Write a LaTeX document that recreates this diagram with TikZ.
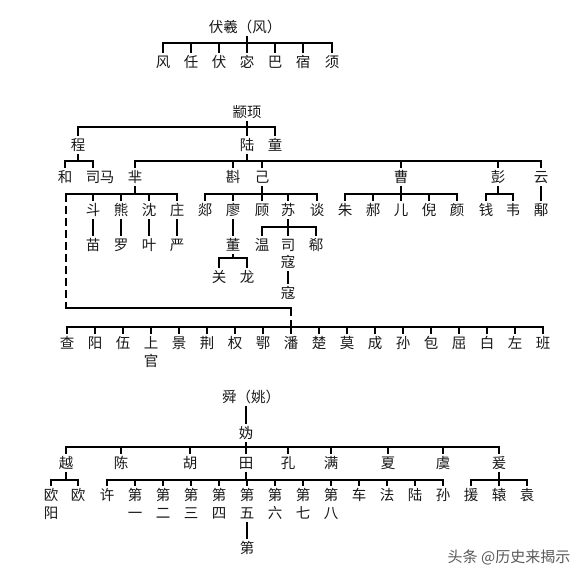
\documentclass[tikz,border=0pt]{standalone}
\usepackage{fontspec}
\newfontfamily\cjk{Noto Sans CJK SC}
\begin{document}
\begin{tikzpicture}[x=1pt,y=-1pt,
  nm/.style={font=\cjk\fontsize{14.5}{16}\selectfont, inner sep=0pt, outer sep=4pt, text height=11.8pt, text depth=1pt, text=black!90},
  ln/.style={line width=2.6pt, line cap=rect},
  dl/.style={line width=2.6pt, dash pattern=on 8pt off 4pt}]
\useasboundingbox (0,0) rectangle (583,575);
\fill[white] (0,0) rectangle (583,575);
% ---------- section 1
\node[nm] (t1) at (245,27) {伏羲（风）};
\node[nm] (f1) at (163,62) {风};
\node[nm] (f2) at (191,62) {任};
\node[nm] (f3) at (219,62) {伏};
\node[nm] (f4) at (247,62) {宓};
\node[nm] (f5) at (275,62) {巴};
\node[nm] (f6) at (303,62) {宿};
\node[nm] (f7) at (332,62) {须};
\coordinate (b1) at (0,43);
\draw[ln] (t1.south -| f4) -- (f4 |- b1);
\draw[ln] (f1 |- b1) -- (f7 |- b1);
\foreach \n in {f1,f2,f3,f4,f5,f6,f7} \draw[ln] (\n |- b1) -- (\n.north);
% ---------- section 2
\node[nm] (zx) at (247,112) {颛顼};
\node[nm] (cheng) at (78,145) {程};
\node[nm] (lu) at (247,145) {陆};
\node[nm] (tong) at (275,145) {童};
\coordinate (b2) at (0,127);
\draw[ln] (zx.south) -- (zx |- b2);
\draw[ln] (cheng |- b2) -- (tong |- b2);
\foreach \n in {cheng,lu,tong} \draw[ln] (\n |- b2) -- (\n.north);
% row 177
\node[nm] (he) at (65,177) {和};
\node[nm] (si) at (93,177) {司};
\node[nm] (ma) at (107,177) {马};
\node[nm] (mi) at (135,177) {芈};
\node[nm] (zhen) at (233,177) {斟};
\node[nm] (ji) at (262,177) {己};
\node[nm] (cao) at (401,177) {曹};
\node[nm] (peng) at (498,177) {彭};
\node[nm] (yun) at (541,177) {云};
\coordinate (b3) at (0,161);
\draw[ln] (cheng.south) -- (cheng |- b3);
\draw[ln] (he |- b3) -- (si |- b3);
\foreach \n in {he,si} \draw[ln] (\n |- b3) -- (\n.north);
\draw[ln] (lu.south) -- (lu |- b3);
\draw[ln] (mi |- b3) -- (yun |- b3);
\foreach \n in {mi,zhen,ji,cao,peng,yun} \draw[ln] (\n |- b3) -- (\n.north);
% row 210
\node[nm] (dou) at (93,210) {斗};
\node[nm] (xiong) at (121,210) {熊};
\node[nm] (shen) at (149,210) {沈};
\node[nm] (zhuang) at (177,210) {庄};
\node[nm] (tanA) at (205,210) {郯};
\node[nm] (liao) at (233,210) {廖};
\node[nm] (gu) at (262,210) {顾};
\node[nm] (su) at (288,210) {苏};
\node[nm] (tanB) at (317,210) {谈};
\node[nm] (zhu) at (345,210) {朱};
\node[nm] (hao) at (373,210) {郝};
\node[nm] (er) at (401,210) {儿};
\node[nm] (ni) at (429,210) {倪};
\node[nm] (yan) at (457,210) {颜};
\node[nm] (qian) at (486,210) {钱};
\node[nm] (wei) at (513,210) {韦};
\node[nm] (yuB) at (541,210) {鄅};
\coordinate (b4) at (0,194);
\coordinate (dtop) at (66,194);
\draw[ln] (mi.south) -- (mi |- b4);
\draw[ln] (dtop) -- (zhuang |- b4);
\foreach \n in {dou,xiong,shen,zhuang} \draw[ln] (\n |- b4) -- (\n.north);
\draw[ln] (ji.south) -- (ji |- b4);
\draw[ln] (tanA |- b4) -- (tanB |- b4);
\foreach \n in {tanA,liao,gu,su,tanB} \draw[ln] (\n |- b4) -- (\n.north);
\draw[ln] (cao.south) -- (cao |- b4);
\draw[ln] (zhu |- b4) -- (yan |- b4);
\foreach \n in {zhu,hao,er,ni,yan} \draw[ln] (\n |- b4) -- (\n.north);
\draw[ln] (peng.south) -- (peng |- b4);
\draw[ln] (qian |- b4) -- (wei |- b4);
\foreach \n in {qian,wei} \draw[ln] (\n |- b4) -- (\n.north);
\draw[ln] (yun.south) -- (yuB.north);
% row 245
\node[nm] (miao) at (93,245) {苗};
\node[nm] (luo) at (121,245) {罗};
\node[nm] (ye) at (149,245) {叶};
\node[nm] (yanB) at (177,245) {严};
\node[nm] (dong) at (233,245) {董};
\node[nm] (wen) at (262,245) {温};
\node[nm] (siB) at (288,245) {司};
\node[nm] (kouA) at (288,262) {寇};
\node[nm] (xi) at (316,245) {郗};
\draw[ln] (dou.south) -- (miao.north);
\draw[ln] (xiong.south) -- (luo.north);
\draw[ln] (shen.south) -- (ye.north);
\draw[ln] (zhuang.south) -- (yanB.north);
\draw[ln] (liao.south) -- (dong.north);
\coordinate (b5) at (0,227);
\draw[ln] (su.south) -- (su |- b5);
\draw[ln] (wen |- b5) -- (xi |- b5);
\foreach \n in {wen,siB,xi} \draw[ln] (\n |- b5) -- (\n.north);
% row 277
\node[nm] (guan) at (219,277) {关};
\node[nm] (long) at (247,277) {龙};
\coordinate (b6) at (0,258);
\draw[ln] (dong.south) -- (dong |- b6);
\draw[ln] (guan |- b6) -- (long |- b6);
\foreach \n in {guan,long} \draw[ln] (\n |- b6) -- (\n.north);
\node[nm] (kouB) at (288,293) {寇};
\draw[ln] (kouA.south) -- (kouB.north);
% row 343
\node[nm] (cha) at (67,343) {查};
\node[nm] (yang) at (95,343) {阳};
\node[nm] (wu) at (123,343) {伍};
\node[nm] (shang) at (151,343) {上};
\node[nm] (guanB) at (151,361) {官};
\node[nm] (jing) at (179,343) {景};
\node[nm] (jingB) at (207,343) {荆};
\node[nm] (quan) at (235,343) {权};
\node[nm] (e) at (263,343) {鄂};
\node[nm] (pan) at (291,343) {潘};
\node[nm] (chu) at (319,343) {楚};
\node[nm] (mo) at (347,343) {莫};
\node[nm] (cheng2) at (375,343) {成};
\node[nm] (sun) at (403,343) {孙};
\node[nm] (bao) at (431,343) {包};
\node[nm] (qu) at (459,343) {屈};
\node[nm] (bai) at (487,343) {白};
\node[nm] (zuo) at (515,343) {左};
\node[nm] (ban) at (543,343) {班};
\coordinate (b7) at (0,327);
\coordinate (dbot) at (66,308);
\coordinate (pj) at (291,308);
\draw[dl] (dtop) -- (dbot);
\draw[ln] (dbot) -- (pj);
\draw[dl] (pj) -- (pan |- b7);
\draw[ln] (cha |- b7) -- (ban |- b7);
\foreach \n in {cha,yang,wu,shang,jing,jingB,quan,e,pan,chu,mo,cheng2,sun,bao,qu,bai,zuo,ban} \draw[ln] (\n |- b7) -- (\n.north);
% ---------- section 3
\node[nm] (shun) at (251,397) {舜（姚）};
\node[nm] (gui) at (246,433) {妫};
\draw[ln] (shun.south -| gui) -- (gui.north);
\node[nm] (yue) at (66,463) {越};
\node[nm] (chen) at (121,463) {陈};
\node[nm] (hu) at (190,463) {胡};
\node[nm] (tian) at (246,463) {田};
\node[nm] (kong) at (288,463) {孔};
\node[nm] (man) at (331,463) {满};
\node[nm] (xia) at (388,463) {夏};
\node[nm] (yuC) at (443,463) {虞};
\node[nm] (yuan) at (499,463) {爰};
\coordinate (b8) at (0,447);
\draw[ln] (gui.south) -- (gui |- b8);
\draw[ln] (yue |- b8) -- (yuan |- b8);
\foreach \n in {yue,chen,hu,tian,kong,man,xia,yuC,yuan} \draw[ln] (\n |- b8) -- (\n.north);
% row 495
\node[nm] (ouA) at (51,495) {欧};
\node[nm] (yangB) at (51,513) {阳};
\node[nm] (ouB) at (78,495) {欧};
\node[nm] (xu) at (107,495) {许};
\node[nm] (d1) at (135,495) {第};
\node[nm] (d2) at (163,495) {第};
\node[nm] (d3) at (191,495) {第};
\node[nm] (d4) at (219,495) {第};
\node[nm] (d5) at (247,495) {第};
\node[nm] (d6) at (275,495) {第};
\node[nm] (d7) at (303,495) {第};
\node[nm] (d8) at (331,495) {第};
\node[nm] (n1) at (135,513) {一};
\node[nm] (n2) at (163,513) {二};
\node[nm] (n3) at (191,513) {三};
\node[nm] (n4) at (219,513) {四};
\node[nm] (n5) at (247,513) {五};
\node[nm] (n6) at (275,513) {六};
\node[nm] (n7) at (303,513) {七};
\node[nm] (n8) at (331,513) {八};
\node[nm] (che) at (359,495) {车};
\node[nm] (fa) at (387,495) {法};
\node[nm] (luB) at (415,495) {陆};
\node[nm] (sunB) at (443,495) {孙};
\node[nm] (yuan1) at (471,495) {援};
\node[nm] (yuan2) at (499,495) {辕};
\node[nm] (yuan3) at (527,495) {袁};
\coordinate (b9) at (0,480);
\draw[ln] (yue.south) -- (yue |- b9);
\draw[ln] (ouA |- b9) -- (ouB |- b9);
\foreach \n in {ouA,ouB} \draw[ln] (\n |- b9) -- (\n.north);
\draw[ln] (tian.south) -- (tian |- b9);
\draw[ln] (xu |- b9) -- (sunB |- b9);
\foreach \n in {xu,d1,d2,d3,d4,d5,d6,d7,d8,che,fa,luB,sunB} \draw[ln] (\n |- b9) -- (\n.north);
\draw[ln] (yuan.south) -- (yuan |- b9);
\draw[ln] (yuan1 |- b9) -- (yuan3 |- b9);
\foreach \n in {yuan1,yuan2,yuan3} \draw[ln] (\n |- b9) -- (\n.north);
\node[nm] (diB) at (247,548) {第};
\draw[ln] (n5.south) -- (diB.north);
% watermark
\node[font=\cjk\fontsize{15}{17}\selectfont, text=black!65, inner sep=0pt] (wm) at (509,557) {头条 @历史来揭示};
\end{tikzpicture}
\end{document}
